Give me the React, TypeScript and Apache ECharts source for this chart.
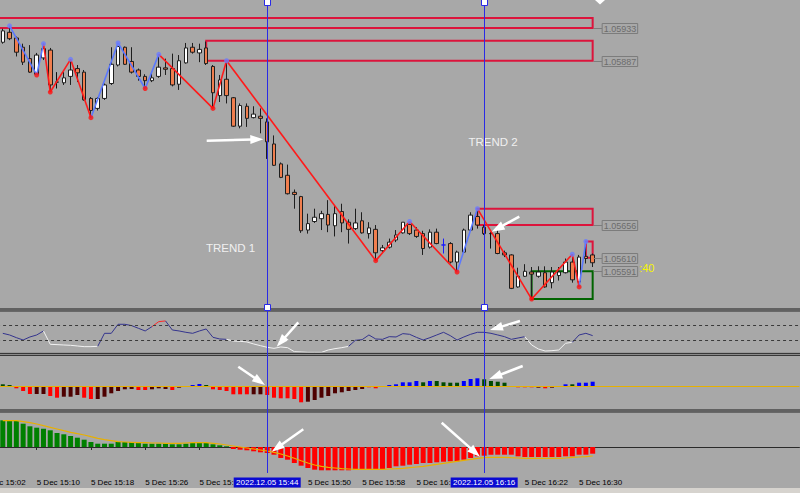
import React, { useEffect, useRef } from "react";
import * as echarts from "echarts";

// ---------- data ----------
const FIRST_MINUTE = 15 * 60 + 2; // first category = 15:02
const CATEGORY_COUNT = 121;
const CANDLE_OFFSET = 3; // first candle is 15:05
const categories = Array.from({ length: CATEGORY_COUNT }, (_, k) => {
  const m = FIRST_MINUTE + k;
  return `${Math.floor(m / 60)}:${String(m % 60).padStart(2, "0")}`;
});
const LAST_LABELLED_CATEGORY = 88; // 16:30
const coveredTickLabels = ["15:34", "16:06"]; // partly hidden behind the highlighted labels
const hiddenTickLabels = ["15:42", "16:14"]; // fully hidden behind the highlighted labels

const candleOpen = [
  1.05913, 1.05927, 1.05919, 1.05906, 1.0589, 1.05868, 1.05891, 1.05902, 1.05857, 1.05856,
  1.05865, 1.05876, 1.05871, 1.05834, 1.0582, 1.05834, 1.05855, 1.05881, 1.05906, 1.05886,
  1.05874, 1.05865, 1.05859, 1.05865, 1.05877, 1.05876, 1.05854, 1.05884, 1.05906, 1.05898,
  1.05905, 1.05879, 1.05838, 1.05861, 1.05835, 1.05795, 1.05823, 1.05807, 1.05809, 1.05801,
  1.0577, 1.05742, 1.05726, 1.05702, 1.05696, 1.05649, 1.05661, 1.05665, 1.05671, 1.05655,
  1.05675, 1.0566, 1.05651, 1.05662, 1.05644, 1.0565, 1.0562, 1.05625, 1.05635, 1.05645,
  1.05657, 1.05649, 1.05644, 1.05625, 1.05646, 1.05628, 1.0563, 1.05604, 1.05618, 1.05649,
  1.05668, 1.05653, 1.05644, 1.05644, 1.05617, 1.05614, 1.05569, 1.05584, 1.0559, 1.05584,
  1.05589, 1.05575, 1.05585, 1.05589, 1.05604, 1.05576, 1.05612, 1.05614,
];
const candleClose = [
  1.05929, 1.05918, 1.05899, 1.05885, 1.05871, 1.05895, 1.05904, 1.05853, 1.05857, 1.05863,
  1.05874, 1.0587, 1.05832, 1.05817, 1.05834, 1.05853, 1.05882, 1.05907, 1.05882, 1.05871,
  1.05865, 1.05859, 1.05863, 1.05878, 1.05875, 1.05853, 1.05887, 1.05905, 1.05899, 1.05903,
  1.05883, 1.05842, 1.0586, 1.05838, 1.05795, 1.05824, 1.05806, 1.05812, 1.05806, 1.05773,
  1.0574, 1.05723, 1.057, 1.05699, 1.05648, 1.05658, 1.05667, 1.05672, 1.05656, 1.05672,
  1.05659, 1.0565, 1.05659, 1.05645, 1.05652, 1.05617, 1.05624, 1.05632, 1.05642, 1.0566,
  1.05644, 1.0564, 1.05623, 1.05646, 1.0563, 1.05628, 1.05604, 1.05618, 1.05649, 1.0567,
  1.05656, 1.05644, 1.05644, 1.05616, 1.05614, 1.05567, 1.05584, 1.05591, 1.05587, 1.0559,
  1.05569, 1.0559, 1.0559, 1.05604, 1.05579, 1.05611, 1.05609, 1.05603,
];
const candleHigh = [
  1.05932, 1.05936, 1.05921, 1.05911, 1.05909, 1.05898, 1.05911, 1.05905, 1.05871, 1.05871,
  1.05889, 1.05881, 1.05874, 1.05836, 1.05836, 1.05855, 1.05906, 1.05912, 1.05907, 1.05906,
  1.05876, 1.05868, 1.05871, 1.05896, 1.0589, 1.05897, 1.05895, 1.05912, 1.05912, 1.05911,
  1.05914, 1.05881, 1.05867, 1.05887, 1.05836, 1.05827, 1.05827, 1.05823, 1.0582, 1.05806,
  1.05782, 1.05744, 1.05741, 1.05706, 1.05697, 1.05672, 1.05679, 1.05676, 1.05691, 1.05684,
  1.05686, 1.05664, 1.05679, 1.05674, 1.0566, 1.05656, 1.05628, 1.05637, 1.05649, 1.0566,
  1.05661, 1.05653, 1.05648, 1.0565, 1.05651, 1.05637, 1.05632, 1.0562, 1.05651, 1.05674,
  1.05679, 1.05656, 1.05646, 1.05649, 1.0562, 1.05615, 1.05596, 1.05601, 1.05597, 1.05598,
  1.05598, 1.05597, 1.05597, 1.05609, 1.05615, 1.05614, 1.05633, 1.05616,
];
const candleLow = [
  1.05911, 1.05916, 1.05893, 1.05881, 1.0587, 1.05867, 1.05888, 1.05843, 1.05848, 1.05853,
  1.05853, 1.05857, 1.05831, 1.05807, 1.05817, 1.05832, 1.05853, 1.05879, 1.05881, 1.05869,
  1.05859, 1.05848, 1.05857, 1.05863, 1.05867, 1.05851, 1.05846, 1.05883, 1.05897, 1.05885,
  1.05881, 1.0582, 1.05829, 1.05827, 1.05794, 1.05792, 1.05794, 1.05806, 1.05785, 1.05749,
  1.05739, 1.05722, 1.05699, 1.05679, 1.05645, 1.05644, 1.05659, 1.05649, 1.05646, 1.0564,
  1.05646, 1.0563, 1.05649, 1.05644, 1.05637, 1.05606, 1.05618, 1.05623, 1.05632, 1.05644,
  1.05642, 1.05638, 1.05614, 1.05623, 1.05629, 1.05616, 1.05602, 1.0559, 1.05617, 1.05648,
  1.05651, 1.05642, 1.05623, 1.05615, 1.05611, 1.05566, 1.05568, 1.05583, 1.05552, 1.05582,
  1.05568, 1.05567, 1.05578, 1.05588, 1.05575, 1.05569, 1.05602, 1.05597,
];
const blueDojiCandles = [65];
const blackDojiCandles = [8, 72];

const zigzagCandle = [1, 5, 6, 7, 10, 13, 17, 21, 23, 31, 33, 55, 60, 67, 70, 78, 84, 85, 86];
const zigzagPrice = [
  1.05936, 1.05867, 1.05911, 1.05843, 1.05889, 1.05807, 1.05912, 1.05848, 1.05896, 1.0582,
  1.05887, 1.05606, 1.05661, 1.0559, 1.05679, 1.05552, 1.05615, 1.05569, 1.05633,
];
const zigzagKind = "hlhlhlhlhlhlhlhlhlh";
const zigzagSegmentColor = "bbrrrbbbrrrrrbrrrb";

const zoneStartCandle = [-3, 30, 70, 86, 78];
const zoneEndCandle = [87, 87, 87, 87, 87];
const zoneTop = [1.05947, 1.05915, 1.05679, 1.05633, 1.05591];
const zoneBottom = [1.05933, 1.05887, 1.05656, 1.0561, 1.05552];
const zoneKind = "rrrrg";
const zoneLabelPrice = [1.05933, 1.05887, 1.05656, 1.0561, 1.05591];
const zoneLabelText = ["1.05933", "1.05887", "1.05656", "1.05610", "1.05591"];

const oscValue = [
  48.8, 44.6, 37.8, 31.8, 39.5, 44.6, 54.8, 20.8, 20.0, 19.1,
  18.3, 16.6, 14.9, 14.9, 15.7, 48.8, 48.8, 71.8, 71.8, 68.4,
  61.6, 54.8, 65.8, 78.5, 80.3, 57.3, 54.8, 51.4, 48.8, 54.8,
  59.9, 38.6, 34.4, 33.5, 29.3, 28.5, 26.8, 21.7, 17.4, 13.2,
  10.6, 14.0, 12.3, 2.1, 1.3, 0.4, 0.4, 0.4, 6.4, 9.8,
  12.3, 15.7, 31.0, 32.7, 44.6, 34.4, 33.5, 40.3, 39.5, 48.0,
  46.3, 38.6, 31.8, 37.8, 44.6, 51.4, 42.9, 31.8, 39.5, 46.3,
  51.4, 51.4, 48.8, 44.6, 40.3, 33.5, 36.9, 40.3, 19.1, 8.9,
  3.8, 4.7, 6.4, 23.4, 25.9, 44.6, 48.8, 42.9,
];
const oscState =
  "bbbbbbbwww" + "wwwwwbbbbb" + "bbbrrbbbbb" + "bbbbwwwwww" + "wwwwwwwwww" +
  "wwbbbbbbbb" + "bbbbbbbbbb" + "bbbbbbbbww" + "wwwwwbbb";
const oscLevels = [70, 30];

const histValue = [
  1.7, 1.0, -2.3, -5.0, -8.0, -8.0, -8.0, -10.0, -11.7, -10.7,
  -10.7, -9.0, -11.7, -13.0, -13.0, -10.7, -7.3, -5.0, -3.3, -3.0,
  -4.0, -4.0, -3.3, -2.3, -3.0, -4.0, -1.7, 0, 1.0, 2.0,
  1.0, -3.3, -4.0, -5.0, -8.3, -8.3, -8.3, -8.3, -8.3, -9.0,
  -11.7, -12.3, -12.3, -13.0, -16.3, -15.7, -14.0, -11.7, -10.0, -7.3,
  -6.3, -5.0, -4.0, -3.0, -1.3, -2.3, 0, 1.0, 1.7, 3.7,
  3.7, 5.0, 3.7, 5.0, 5.0, 3.7, 3.3, 3.3, 5.0, 7.0,
  7.7, 6.7, 5.0, 4.3, 3.3, 0, -1.3, -1.3, -1.3, -1.7,
  -2.3, -1.7, 0, 1.7, 1.7, 3.3, 3.3, 4.3,
];
const histColor =
  "ggrrrddrrd" + "ddrrdddddd" + "rrdddrddbb" + "grrrrrrddr" + "rrrrrddddd" +
  "ddddrrrbbb" + "bbgbggggbb" + "bgggggrrrd" + "rddbgbbb";

const macdValue = [
  26.7, 26.7, 26.0, 23.3, 20.7, 19.3, 18.3, 16.7, 14.0, 12.7,
  11.0, 9.3, 7.3, 5.0, 3.3, 3.3, 3.3, 5.0, 5.0, 5.0,
  4.3, 3.3, 3.3, 3.3, 3.3, 2.7, 2.7, 3.3, 4.0, 4.3,
  4.0, 2.7, 1.7, 0.7, -2.0, -2.7, -3.3, -4.3, -5.3, -6.0,
  -7.7, -11.0, -12.7, -16.0, -18.7, -21.0, -22.7, -23.3, -23.3, -23.3,
  -23.3, -23.3, -22.7, -22.0, -22.0, -22.0, -22.0, -21.0, -19.3, -18.7,
  -17.7, -17.0, -16.0, -16.0, -15.3, -14.7, -14.3, -14.3, -12.7, -11.0,
  -9.3, -8.7, -7.7, -7.7, -7.7, -7.7, -9.3, -10.0, -10.0, -10.0,
  -10.0, -10.0, -10.0, -9.3, -9.3, -7.7, -7.7, -6.7,
];
const macdSignal = [
  26.3, 26.3, 26.3, 25.3, 24.3, 23.0, 21.3, 19.7, 18.0, 16.3,
  14.7, 13.3, 12.0, 10.3, 8.7, 7.3, 6.3, 5.3, 5.0, 4.7,
  4.3, 4.3, 4.0, 4.0, 3.7, 3.7, 3.7, 4.0, 4.3, 4.3,
  4.3, 3.7, 3.0, 2.0, 1.0, 0, -1.0, -2.0, -3.0, -4.0,
  -5.3, -7.0, -9.0, -11.3, -13.7, -16.0, -18.0, -19.3, -20.3, -21.0,
  -21.7, -22.0, -22.3, -22.3, -22.3, -22.3, -22.3, -22.0, -21.7, -21.3,
  -20.7, -20.0, -19.3, -18.3, -17.3, -16.3, -15.3, -14.3, -13.3, -12.3,
  -11.3, -10.7, -10.3, -10.3, -10.3, -10.7, -11.0, -11.3, -11.3, -11.3,
  -11.3, -11.3, -11.3, -11.0, -10.3, -10.0, -9.7, -9.0,
];

const markerTimes = ["15:44", "16:16"];
const markerLabels = ["2022.12.05 15:44", "2022.12.05 16:16"];
const trendLabels = ["TREND 1", "TREND 2"];
const timerText = ":40";

// ---------- styles / annotation geometry (page pixels) ----------
const BG = "#a8a8a8";
const SHIFT = 21; // the chart canvas starts 21px left of the page so that the 15:02 tick exists
const GRID_LEFT = 0.07;
const GRID_WIDTH = 820.38;
const MAIN_MIN = 1.055394;
const MAIN_MAX = 1.059724;
const ZZ = { r: "#ff1a1a", b: "#5a78ff" };
const OSC = { b: "#34348e", w: "#f2f2f2", r: "#ff2a2a" };
const HIST = { r: "#ff0000", d: "#4e0000", b: "#0000ff", g: "#004a00" };
const ZONE = { r: "#dc143c", g: "#006400" };
const VLINE = "#2a2ae6";
const FONT = "Liberation Sans, Arial, sans-serif";

const trendPos = [
  [230.5, 248.3],
  [493, 141.7],
];
const arrows = [
  [206.7, 140.7, 263.3, 139.3],
  [519.3, 216.7, 491.7, 231.7],
  [298.3, 322.3, 276.7, 346.7],
  [520, 321, 490, 330],
  [238.3, 366.7, 265, 385],
  [522.7, 366, 489.3, 379],
  [303.3, 429.3, 271.7, 451.7],
  [441.7, 422.7, 480, 456.7],
];

const cat = (i: number) => i + CANDLE_OFFSET;

function buildOption(): any {
  const candleData = candleOpen.map((o, i) => {
    const item: any = { value: [cat(i), o, candleClose[i], candleLow[i], candleHigh[i]] };
    if (blueDojiCandles.includes(i))
      item.itemStyle = { color: "#1a1aff", color0: "#1a1aff", borderColor: "#1a1aff", borderColor0: "#1a1aff" };
    if (blackDojiCandles.includes(i))
      item.itemStyle = { color: "#111", color0: "#111", borderColor: "#111", borderColor0: "#111" };
    return item;
  });

  const zzSegments = [];
  for (let s = 0; s < zigzagCandle.length - 1; s++) {
    zzSegments.push({
      coords: [
        [cat(zigzagCandle[s]), zigzagPrice[s]],
        [cat(zigzagCandle[s + 1]), zigzagPrice[s + 1]],
      ],
      lineStyle: { color: (ZZ as any)[zigzagSegmentColor[s]] },
    });
  }
  const zzDots = zigzagCandle.map((c, s) => ({
    value: [cat(c), zigzagPrice[s]],
    itemStyle: { color: zigzagKind[s] === "h" ? "#6a7cff" : "#ff1010" },
  }));

  const zoneAreas = zoneStartCandle.map((st, z) => [
    {
      coord: [Math.max(0, cat(st)), zoneTop[z]],
      itemStyle: { color: "rgba(0,0,0,0)", borderColor: (ZONE as any)[zoneKind[z]], borderWidth: 2 },
    },
    { coord: [cat(zoneEndCandle[z]), zoneBottom[z]] },
  ]);

  const oscPolylines: any[] = [];
  let cur: any = null;
  for (let i = 1; i < oscValue.length; i++) {
    const c = oscState[i];
    if (!cur || cur.c !== c) {
      cur = { c, coords: [[cat(i - 1), oscValue[i - 1]]] };
      oscPolylines.push(cur);
    }
    cur.coords.push([cat(i), oscValue[i]]);
  }

  const lastClose = candleClose[candleClose.length - 1];
  const isTick = (i: number) => i % 8 === 0 && i <= LAST_LABELLED_CATEGORY;
  const isLabel = (i: number) => isTick(i) && !hiddenTickLabels.includes(categories[i]);

  const mkX = (g: number, bottom = false) => ({
    type: "category",
    gridIndex: g,
    data: categories,
    boundaryGap: true,
    axisLine: bottom ? { show: true, lineStyle: { color: "#2a2a2a", width: 1 } } : { show: false },
    axisTick: bottom
      ? { show: true, alignWithLabel: true, interval: isTick, length: 3, lineStyle: { color: "#2a2a2a" } }
      : { show: false },
    axisLabel: bottom
      ? {
          show: true,
          interval: isLabel,
          align: "left",
          margin: 5,
          fontSize: 8,
          color: "#000",
          fontFamily: FONT,
          formatter: (v: string) => "5 Dec " + (coveredTickLabels.includes(v) ? v.slice(0, 3) : v),
        }
      : { show: false },
    splitLine: { show: false },
  });
  const mkY = (g: number, min: number, max: number) => ({
    type: "value",
    gridIndex: g,
    min,
    max,
    show: false,
    splitLine: { show: false },
  });

  return {
    animation: false,
    backgroundColor: BG,
    textStyle: { fontFamily: FONT },
    grid: [
      { left: GRID_LEFT, width: GRID_WIDTH, top: 0, height: 308 },
      { left: GRID_LEFT, width: GRID_WIDTH, top: 313.2, height: 39.3 },
      { left: GRID_LEFT, width: GRID_WIDTH, top: 356, height: 52 },
      { left: GRID_LEFT, width: GRID_WIDTH, top: 413, height: 60 },
    ],
    xAxis: [mkX(0), mkX(1), mkX(2), mkX(3, true)],
    yAxis: [mkY(0, MAIN_MIN, MAIN_MAX), mkY(1, 0, 100), mkY(2, -22, 30), mkY(3, -26, 34)],
    series: [
      {
        type: "candlestick",
        xAxisIndex: 0,
        yAxisIndex: 0,
        encode: { x: 0, y: [1, 2, 3, 4] },
        barWidth: 4,
        itemStyle: {
          color: "#ffffff",
          color0: "#f07e4e",
          borderColor: "#1e1e1e",
          borderColor0: "#1e1e1e",
          borderWidth: 1,
        },
        data: candleData,
        markArea: { silent: true, data: zoneAreas, label: { show: false } },
        markLine: {
          silent: true,
          symbol: "none",
          label: { show: false },
          lineStyle: { color: "#d6d6d6", width: 2, type: "solid" },
          data: [{ yAxis: lastClose }],
        },
        z: 2,
      },
      {
        type: "lines",
        coordinateSystem: "cartesian2d",
        xAxisIndex: 0,
        yAxisIndex: 0,
        polyline: false,
        silent: true,
        lineStyle: { width: 1.6, opacity: 1 },
        data: zzSegments,
        z: 3,
      },
      {
        type: "scatter",
        xAxisIndex: 0,
        yAxisIndex: 0,
        symbolSize: 5,
        silent: true,
        data: zzDots,
        z: 4,
      },
      {
        type: "lines",
        coordinateSystem: "cartesian2d",
        xAxisIndex: 1,
        yAxisIndex: 1,
        polyline: true,
        silent: true,
        lineStyle: { width: 1, opacity: 1 },
        data: oscPolylines.map((p) => ({ coords: p.coords, lineStyle: { color: (OSC as any)[p.c] } })),
        z: 3,
      },
      {
        type: "scatter",
        xAxisIndex: 1,
        yAxisIndex: 1,
        data: [],
        markLine: {
          silent: true,
          symbol: "none",
          label: { show: false },
          lineStyle: { color: "#3a3a3a", width: 1, type: [3, 3] },
          data: oscLevels.map((v) => ({ yAxis: v })),
        },
      },
      {
        type: "bar",
        xAxisIndex: 2,
        yAxisIndex: 2,
        barWidth: 4,
        silent: true,
        data: histValue.map((v, i) => ({
          value: [cat(i), v],
          itemStyle: { color: (HIST as any)[histColor[i]] },
        })),
        markLine: {
          silent: true,
          symbol: "none",
          label: { show: false },
          lineStyle: { color: "#e6b000", width: 1, type: "solid" },
          data: [{ yAxis: 0 }],
        },
      },
      {
        type: "bar",
        xAxisIndex: 3,
        yAxisIndex: 3,
        barWidth: 5,
        silent: true,
        data: macdValue.map((v, i) => ({
          value: [cat(i), v],
          itemStyle: { color: v >= 0 ? "#008000" : "#ff0000" },
        })),
      },
      {
        type: "line",
        xAxisIndex: 3,
        yAxisIndex: 3,
        symbol: "none",
        silent: true,
        lineStyle: { color: "#e8b000", width: 1.2 },
        data: macdSignal.map((v, i) => [cat(i), v]),
        z: 4,
      },
    ],
  };
}

function arrowGraphic(a: number[]) {
  const [x1, y1, x2, y2] = [a[0] + SHIFT, a[1], a[2] + SHIFT, a[3]];
  const dx = x2 - x1;
  const dy = y2 - y1;
  const len = Math.hypot(dx, dy);
  const ux = dx / len;
  const uy = dy / len;
  const head = 13;
  const half = 4.5;
  const bx = x2 - ux * head;
  const by = y2 - uy * head;
  return [
    {
      type: "line",
      shape: { x1, y1, x2: bx + ux * 2, y2: by + uy * 2 },
      style: { stroke: "#ffffff", lineWidth: 2.5 },
      z: 100,
    },
    {
      type: "polygon",
      shape: {
        points: [
          [x2, y2],
          [bx - uy * half, by + ux * half],
          [bx + uy * half, by - ux * half],
        ],
      },
      style: { fill: "#ffffff" },
      z: 100,
    },
  ];
}

export default function App() {
  const ref = useRef<HTMLDivElement>(null);
  useEffect(() => {
    document.body.style.margin = "0";
    document.body.style.overflow = "hidden";
    const chart = echarts.init(ref.current!, null, { renderer: "svg" });
    chart.setOption(buildOption());

    const px = (g: number, x: any, y: number) => chart.convertToPixel({ gridIndex: g }, [x, y]) as number[];
    const rightX = px(0, cat(87), MAIN_MAX)[0];
    const boxLeft = rightX + 9.5;
    const W = 800 + SHIFT;
    const g: any[] = [];

    // panel separators
    [308, 352.6, 409].forEach((y) => {
      g.push({ type: "rect", shape: { x: 0, y, width: W, height: 3.5 }, style: { fill: "#8a8a8a" }, z: 50 });
      g.push({ type: "rect", shape: { x: 0, y: y + 0.5, width: W, height: 1 }, style: { fill: "#383838" }, z: 51 });
      g.push({ type: "rect", shape: { x: 0, y: y + 2.5, width: W, height: 1 }, style: { fill: "#383838" }, z: 51 });
    });
    // bottom strip
    g.push({ type: "rect", shape: { x: 0, y: 488, width: W, height: 5 }, style: { fill: "#d6d3ce" }, z: 50 });

    // vertical time markers through every panel, with their handles
    markerTimes.forEach((t) => {
      const x = Math.round(px(3, t, 0)[0]);
      g.push({ type: "rect", shape: { x, y: 0, width: 1, height: 473 }, style: { fill: VLINE }, z: 90 });
      [2, 306.7].forEach((hy) =>
        g.push({
          type: "rect",
          shape: { x: x - 2.5, y: Math.round(hy) - 2.5, width: 6, height: 6 },
          style: { fill: "#ffffff", stroke: VLINE, lineWidth: 1 },
          z: 91,
        })
      );
    });

    // zone price labels
    zoneLabelPrice.forEach((p, i) => {
      const y = Math.round(px(0, 0, p)[1]) + 0.5;
      g.push({
        type: "line",
        shape: { x1: rightX + 1, y1: y, x2: boxLeft, y2: y },
        style: { stroke: "#7c7c7c", lineWidth: 1 },
        z: 61,
      });
      g.push({
        type: "rect",
        shape: { x: boxLeft, y: y - 5, width: 35.5, height: 10 },
        style: { fill: BG, stroke: "#7c7c7c", lineWidth: 1 },
        z: 61,
      });
      g.push({
        type: "text",
        x: boxLeft + 1.5,
        y: y,
        style: { text: zoneLabelText[i], fill: "#6c6c6c", font: `9px ${FONT}`, textVerticalAlign: "middle" },
        z: 62,
      });
    });

    // countdown timer (its first digits hide behind the 1.05591 label)
    const timerY = px(0, 0, zoneLabelPrice[4])[1] - 3;
    g.push({
      type: "text",
      x: boxLeft + 37,
      y: timerY,
      style: { text: timerText, fill: "#f4f400", font: `11px ${FONT}`, textVerticalAlign: "middle" },
      z: 60,
    });

    // trend labels
    trendLabels.forEach((t, i) => {
      g.push({
        type: "text",
        x: trendPos[i][0] + SHIFT,
        y: trendPos[i][1],
        style: {
          text: t,
          fill: "#f0f0f0",
          font: `11.5px ${FONT}`,
          textAlign: "center",
          textVerticalAlign: "middle",
        },
        z: 70,
      });
    });

    // highlighted time labels
    markerTimes.forEach((t, i) => {
      const x = px(3, t, 0)[0];
      g.push({
        type: "rect",
        shape: { x: x - 33.5, y: 477.5, width: 67, height: 10 },
        style: { fill: "#0a0ad2" },
        z: 80,
      });
      g.push({
        type: "text",
        x,
        y: 482.5,
        style: {
          text: markerLabels[i],
          fill: "#ffffff",
          font: `8px ${FONT}`,
          textAlign: "center",
          textVerticalAlign: "middle",
        },
        z: 81,
      });
    });

    // shift marker
    g.push({
      type: "polygon",
      shape: { points: [[595 + SHIFT, 0], [605 + SHIFT, 0], [600 + SHIFT, 4.5]] },
      style: { fill: "#ffffff" },
      z: 70,
    });

    arrows.forEach((a) => g.push(...arrowGraphic(a)));

    chart.setOption({ graphic: g });
    return () => chart.dispose();
  }, []);
  return (
    <div
      ref={ref}
      style={{ position: "fixed", left: -SHIFT, top: 0, width: 800 + SHIFT, height: 493, background: BG }}
    />
  );
}
